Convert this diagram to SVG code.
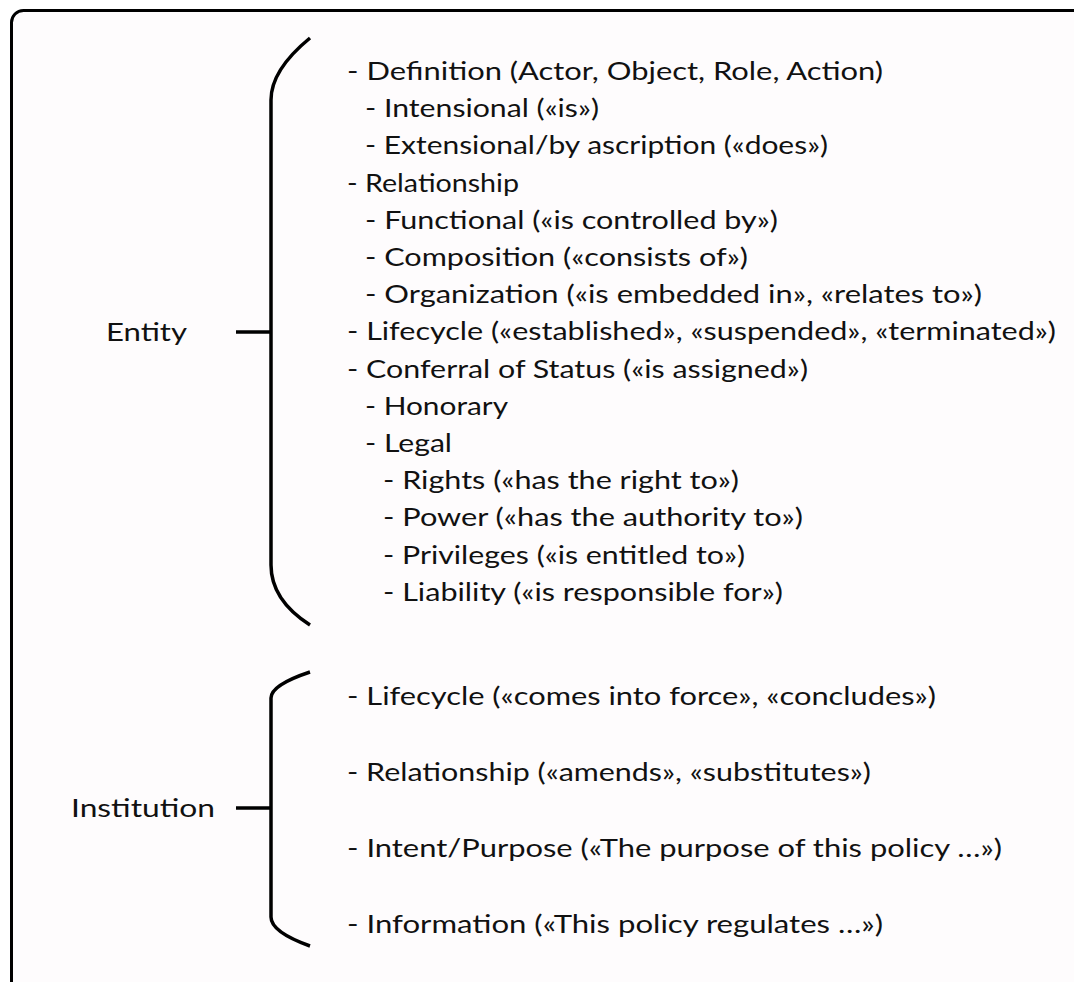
<svg xmlns="http://www.w3.org/2000/svg" width="1074" height="982" viewBox="0 0 1074 982">
<style>
text{font-family:Lato,"Open Sans","Liberation Sans",sans-serif;font-size:25.5px;fill:#111}
.br{fill:none;stroke:#000;stroke-width:3.5;stroke-linecap:butt}
</style>
<rect x="0" y="0" width="1074" height="982" fill="#fff"/>
<rect id="frame" x="11.5" y="10.5" width="1090" height="990" rx="12" fill="#fefcfd" stroke="#000" stroke-width="3"/>
<g id="connectors">
<path class="br" d="M310,38 Q271,70 271,100 L271,565 Q271,600 310,625"/>
<path class="br" d="M236,332 H271"/>
<path class="br" d="M310,672 Q271,685 271,698 L271,917 Q271,932 310,946"/>
<path class="br" d="M236,808 H271"/>
</g>
<g id="entity"><text x="106" y="341" textLength="81" lengthAdjust="spacingAndGlyphs">Entity</text></g>
<g id="institution"><text x="71" y="817" textLength="144" lengthAdjust="spacingAndGlyphs">Institution</text></g>
<g id="entity-items">
<text x="347" y="80" textLength="536" lengthAdjust="spacingAndGlyphs">- Definition (Actor, Object, Role, Action)</text>
<text x="365" y="117.2" textLength="234" lengthAdjust="spacingAndGlyphs">- Intensional («is»)</text>
<text x="365" y="154.4" textLength="463" lengthAdjust="spacingAndGlyphs">- Extensional/by ascription («does»)</text>
<text x="347" y="191.6" textLength="172" lengthAdjust="spacingAndGlyphs">- Relationship</text>
<text x="365" y="228.8" textLength="413" lengthAdjust="spacingAndGlyphs">- Functional («is controlled by»)</text>
<text x="365" y="266" textLength="383" lengthAdjust="spacingAndGlyphs">- Composition («consists of»)</text>
<text x="365" y="303.2" textLength="617" lengthAdjust="spacingAndGlyphs">- Organization («is embedded in», «relates to»)</text>
<text x="347" y="340.4" textLength="709" lengthAdjust="spacingAndGlyphs">- Lifecycle («established», «suspended», «terminated»)</text>
<text x="347" y="377.6" textLength="461" lengthAdjust="spacingAndGlyphs">- Conferral of Status («is assigned»)</text>
<text x="365" y="414.8" textLength="143" lengthAdjust="spacingAndGlyphs">- Honorary</text>
<text x="365" y="452" textLength="87" lengthAdjust="spacingAndGlyphs">- Legal</text>
<text x="383" y="489.2" textLength="356" lengthAdjust="spacingAndGlyphs">- Rights («has the right to»)</text>
<text x="383" y="526.4" textLength="420" lengthAdjust="spacingAndGlyphs">- Power («has the authority to»)</text>
<text x="383" y="563.6" textLength="362" lengthAdjust="spacingAndGlyphs">- Privileges («is entitled to»)</text>
<text x="383" y="600.8" textLength="400" lengthAdjust="spacingAndGlyphs">- Liability («is responsible for»)</text>
</g>
<g id="institution-items">
<text x="347" y="705" textLength="589" lengthAdjust="spacingAndGlyphs">- Lifecycle («comes into force», «concludes»)</text>
<text x="347" y="781" textLength="524" lengthAdjust="spacingAndGlyphs">- Relationship («amends», «substitutes»)</text>
<text x="347" y="857" textLength="655" lengthAdjust="spacingAndGlyphs">- Intent/Purpose («The purpose of this policy …»)</text>
<text x="347" y="933" textLength="536" lengthAdjust="spacingAndGlyphs">- Information («This policy regulates …»)</text>
</g>
</svg>
